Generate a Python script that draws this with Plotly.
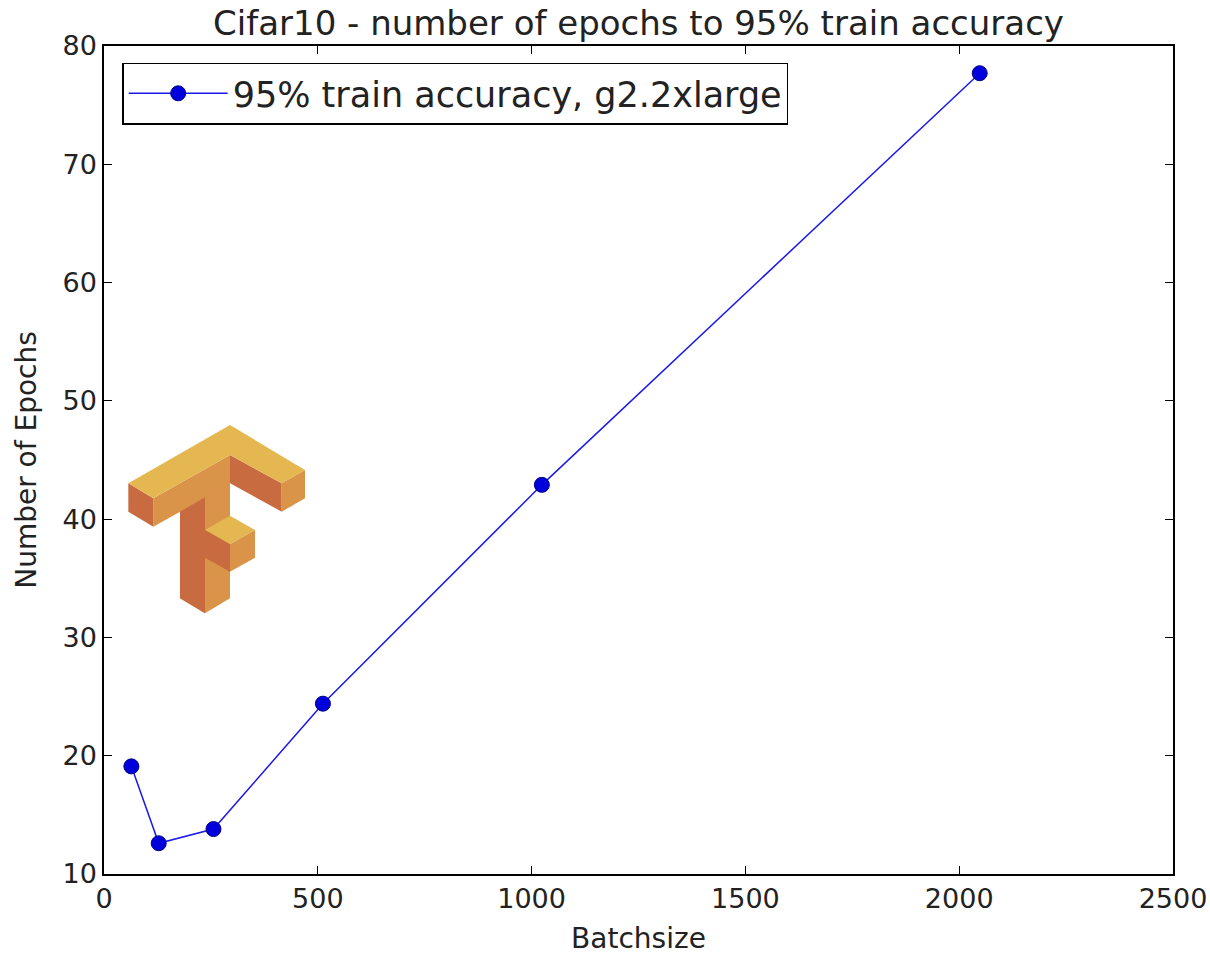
import plotly.graph_objects as go

# ---- data ----
batchsize = [64, 128, 256, 512, 1024, 2048]
epochs = [19.1, 12.6, 13.8, 24.4, 42.9, 77.7]
series_name = "95% train accuracy, g2.2xlarge"
x_ticks = [0, 500, 1000, 1500, 2000, 2500]
y_ticks = [10, 20, 30, 40, 50, 60, 70, 80]

W, H = 1210, 955
L, R, T, B = 104, 1173, 46, 874  # plot-area pixel box on the page

fig = go.Figure()
fig.add_trace(go.Scatter(
    x=batchsize, y=epochs, mode="lines+markers", name=series_name,
    line=dict(color="#1a1ae6", width=1.5),
    marker=dict(color="#0000dd", size=15, line=dict(color="#000080", width=1)),
))

# ---- TensorFlow logo decoration (pixel geometry -> paper coords) ----
def P(pts):
    out = []
    for zx, zy in pts:
        px = 120 + zx / 3.0
        py = 415 + zy / 3.0
        out.append(((px - L) / (R - L), (B - py) / (B - T)))
    return "M " + " L ".join(f"{a:.5f},{b:.5f}" for a, b in out) + " Z"

YEL, MED, DRK = "#E5B751", "#D99449", "#C96B40"
polys = [
    (MED, [(100, 250), (330, 120), (330, 550), (255, 595), (180, 550), (180, 290), (100, 335)]),
    (DRK, [(180, 290), (255, 247), (255, 595), (180, 550)]),
    (DRK, [(25, 205), (100, 250), (100, 335), (25, 290)]),
    (DRK, [(330, 120), (485, 205), (485, 290), (330, 205)]),
    (MED, [(485, 205), (555, 165), (555, 250), (485, 290)]),
    (YEL, [(330, 30), (555, 165), (485, 205), (330, 120), (100, 250), (25, 205)]),
    (YEL, [(255, 345), (330, 302), (405, 345), (330, 388)]),
    (DRK, [(255, 345), (330, 388), (330, 470), (255, 428)]),
    (MED, [(330, 388), (405, 345), (405, 428), (330, 470)]),
]
for col, pts in polys:
    fig.add_shape(type="path", path=P(pts), xref="paper", yref="paper",
                  fillcolor=col, line=dict(width=0), layer="below")

font = "DejaVu Sans, Arial, sans-serif"
axis_common = dict(
    showgrid=False, zeroline=False, showline=True, linecolor="black", linewidth=1.5,
    mirror="allticks", ticks="inside", ticklen=8, tickwidth=1, tickcolor="black",
    tickfont=dict(family=font, size=27, color="#222"), automargin=False,
)
fig.update_layout(
    width=W, height=H,
    margin=dict(l=L, r=W - R, t=T, b=H - B, autoexpand=False),
    paper_bgcolor="white", plot_bgcolor="white",
    title=dict(text="Cifar10 - number of epochs to 95% train accuracy",
               x=0.5, xref="paper", xanchor="center",
               y=1 - 23 / H, yref="container", yanchor="middle",
               font=dict(family=font, size=34, color="#222")),
    xaxis=dict(range=[0, 2500], tickvals=x_ticks, **axis_common,
               title=dict(text="Batchsize", font=dict(family=font, size=28, color="#222"), standoff=19)),
    yaxis=dict(range=[10, 80], tickvals=y_ticks, **axis_common,
               title=dict(text="Number of Epochs", font=dict(family=font, size=28, color="#222"), standoff=18)),
    legend=dict(x=0.017, y=0.98, xanchor="left", yanchor="top",
                bgcolor="white", bordercolor="black", borderwidth=1.5,
                font=dict(family=font, size=35, color="#222"), itemwidth=99),
    showlegend=True,
)

fig.write_html("out.html", config={"displayModeBar": False},
               post_script="document.body.style.margin='0';document.body.style.overflow='hidden';")
